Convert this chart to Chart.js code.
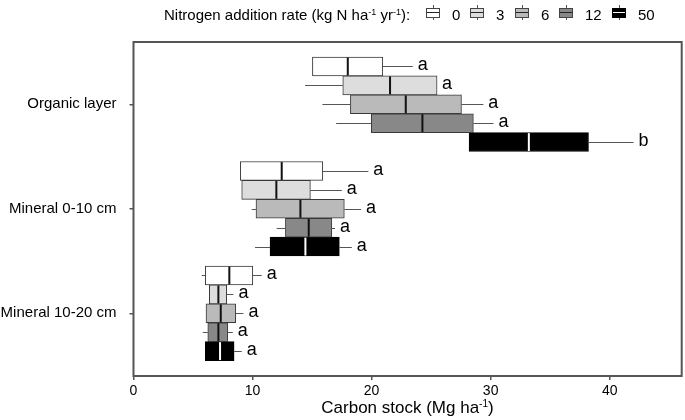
<!DOCTYPE html>
<html>
<head>
<meta charset="utf-8">
<script src="https://cdn.jsdelivr.net/npm/chart.js@4/dist/chart.umd.min.js"></script>
<style>
  html, body { margin:0; padding:0; background:#fff; }
  #wrap { position:relative; width:685px; height:420px; font-family:"Liberation Sans", Arial, sans-serif; color:#000; }
  canvas { position:absolute; left:0; top:0; }
  .lg { position:absolute; font-size:15px; line-height:15px; white-space:nowrap; }
  .lg sup { font-size:9px; vertical-align:5px; line-height:0; }
  .icw { position:absolute; width:1px; height:15px; top:5px; background:#555; }
  .ic { position:absolute; width:14px; height:10px; border:1px solid #444; box-sizing:border-box; top:7.5px; }
  .ic::before { content:""; position:absolute; left:0; right:0; top:3.5px; height:1px; background:#222; }
  .ic.blk::before { background:#fff; }
  #xt { position:absolute; left:133px; width:549px; top:399px; text-align:center; font-size:17px; line-height:17px; }
  #xt sup { font-size:10px; vertical-align:6px; line-height:0; }
</style>
</head>
<body>
<div id="wrap">
  <canvas id="c" width="685" height="420"></canvas>
  <div class="lg" style="left:164px;top:7px;">Nitrogen addition rate (kg N ha<sup>-1</sup> yr<sup>-1</sup>):</div>
  <div id="legendItems"></div>
  <div id="xt">Carbon stock (Mg ha<sup>-1</sup>)</div>
</div>
<script>
// ---- data ----
const layers = ['Organic layer', 'Mineral 0-10 cm', 'Mineral 10-20 cm'];
const rates = ['0', '3', '6', '12', '50'];
const xTicks = [0, 10, 20, 30, 40];
// [rate][layer]
const whiskerLow = [
  [15.03, 8.97, 5.73],
  [14.41, 9.09, 6.37],
  [15.87, 9.93, 6.09],
  [17.02, 12.03, 5.82],
  [28.19, 10.21, 6.03]
];
const q1 = [
  [15.03, 8.97, 6.03],
  [17.58, 9.09, 6.37],
  [18.22, 10.29, 6.09],
  [19.98, 12.76, 6.24],
  [28.19, 11.47, 6.03]
];
const median = [
  [18.00, 12.45, 8.05],
  [21.55, 12.00, 7.13],
  [22.87, 14.02, 7.33],
  [24.27, 14.72, 7.13],
  [33.21, 14.44, 7.27]
];
const q3 = [
  [20.94, 15.90, 10.02],
  [25.50, 14.86, 7.83],
  [27.55, 17.71, 8.59],
  [28.55, 16.66, 7.92],
  [38.22, 17.29, 8.45]
];
const whiskerHigh = [
  [23.46, 19.73, 10.77],
  [25.50, 17.50, 8.39],
  [29.39, 19.12, 9.23],
  [30.24, 16.93, 8.34],
  [42.00, 18.34, 9.09]
];
const letters = [
  ['a', 'a', 'a'],
  ['a', 'a', 'a'],
  ['a', 'a', 'a'],
  ['a', 'a', 'a'],
  ['b', 'a', 'a']
];

// ---- styles ----
const fills = ['#ffffff', '#dddddd', '#bababa', '#888888', '#000000'];
const medianColors = ['#111', '#111', '#111', '#111', '#ffffff'];
const FONT = '"Liberation Sans", Arial, sans-serif';

// legend (HTML)
const legendX = [426, 470, 515, 559, 612];
const li = document.getElementById('legendItems');
rates.forEach((r, i) => {
  const w = document.createElement('div');
  w.className = 'icw';
  w.style.left = (legendX[i] + 6.5) + 'px';
  li.appendChild(w);
  const ic = document.createElement('div');
  ic.className = 'ic' + (i === 4 ? ' blk' : '');
  ic.style.left = legendX[i] + 'px';
  ic.style.background = fills[i];
  if (i === 4) ic.style.borderColor = '#000';
  li.appendChild(ic);
  const t = document.createElement('div');
  t.className = 'lg';
  t.style.left = (legendX[i] + 26) + 'px';
  t.style.top = '7px';
  t.textContent = r;
  li.appendChild(t);
});

const datasets = rates.map((r, d) => ({
  label: r,
  data: layers.map((l, k) => ({ x: [q1[d][k], q3[d][k]], y: k })),
  backgroundColor: fills[d],
  borderColor: d === 4 ? '#000' : '#3a3a3a',
  borderWidth: 1,
  borderSkipped: false,
  barThickness: 18.9,
  grouped: true
}));

const boxPlugin = {
  id: 'boxExtras',
  afterDatasetsDraw(chart) {
    const ctx = chart.ctx;
    const xs = chart.scales.x;
    ctx.save();
    chart.data.datasets.forEach((ds, d) => {
      const meta = chart.getDatasetMeta(d);
      meta.data.forEach((el, k) => {
        const yc = Math.round(el.y) + 0.5;
        const h = el.height;
        ctx.strokeStyle = '#555';
        ctx.lineWidth = 1;
        const xlo = xs.getPixelForValue(whiskerLow[d][k]);
        const xq1 = xs.getPixelForValue(q1[d][k]);
        const xq3 = xs.getPixelForValue(q3[d][k]);
        const xhi = xs.getPixelForValue(whiskerHigh[d][k]);
        if (xq1 - xlo > 0.5) { ctx.beginPath(); ctx.moveTo(xlo, yc); ctx.lineTo(xq1, yc); ctx.stroke(); }
        if (xhi - xq3 > 0.5) { ctx.beginPath(); ctx.moveTo(xq3, yc); ctx.lineTo(xhi, yc); ctx.stroke(); }
        const xm = xs.getPixelForValue(median[d][k]);
        ctx.strokeStyle = medianColors[d];
        ctx.lineWidth = 2;
        ctx.beginPath(); ctx.moveTo(xm, el.y - h / 2 + 0.5); ctx.lineTo(xm, el.y + h / 2 - 0.5); ctx.stroke();
        ctx.fillStyle = '#000';
        ctx.font = '18px ' + FONT;
        ctx.textAlign = 'left';
        ctx.textBaseline = 'middle';
        ctx.fillText(letters[d][k], xhi + 5, el.y - 1);
      });
    });
    ctx.restore();
  },
  afterDraw(chart) {
    const a = chart.chartArea;
    const ctx = chart.ctx;
    ctx.save();
    ctx.strokeStyle = '#555';
    ctx.lineWidth = 2;
    ctx.strokeRect(a.left, a.top, a.right - a.left, a.bottom - a.top);
    ctx.restore();
  }
};

new Chart(document.getElementById('c'), {
  type: 'bar',
  data: { datasets },
  plugins: [boxPlugin],
  options: {
    responsive: false,
    animation: false,
    indexAxis: 'y',
    layout: { padding: { top: 42, right: 3.3, left: 0, bottom: 0 } },
    plugins: { legend: { display: false }, tooltip: { enabled: false } },
    scales: {
      x: {
        type: 'linear',
        min: 0,
        max: 46.05,
        offset: false,
        afterBuildTicks: s => { s.ticks = xTicks.map(v => ({ value: v })); },
        afterFit: s => { s.height = 44; },
        grid: { display: true, offset: false, drawOnChartArea: false, drawTicks: true, tickLength: 4, color: '#555', lineWidth: 1.5 },
        border: { display: false },
        ticks: { color: '#000', font: { size: 14, family: FONT }, padding: 3, maxRotation: 0 }
      },
      y: {
        type: 'linear',
        reverse: true,
        offset: false,
        min: -0.596,
        max: 2.6,
        afterBuildTicks: s => { s.ticks = layers.map((l, k) => ({ value: k })); },
        afterFit: s => { s.width = 133.5; },
        grid: { display: true, offset: false, drawOnChartArea: false, drawTicks: true, tickLength: 4, color: '#555', lineWidth: 1.5 },
        border: { display: false },
        ticks: { color: '#000', font: { size: 15, family: FONT }, padding: 13, callback: v => layers[v] }
      }
    }
  }
});
</script>
</body>
</html>
